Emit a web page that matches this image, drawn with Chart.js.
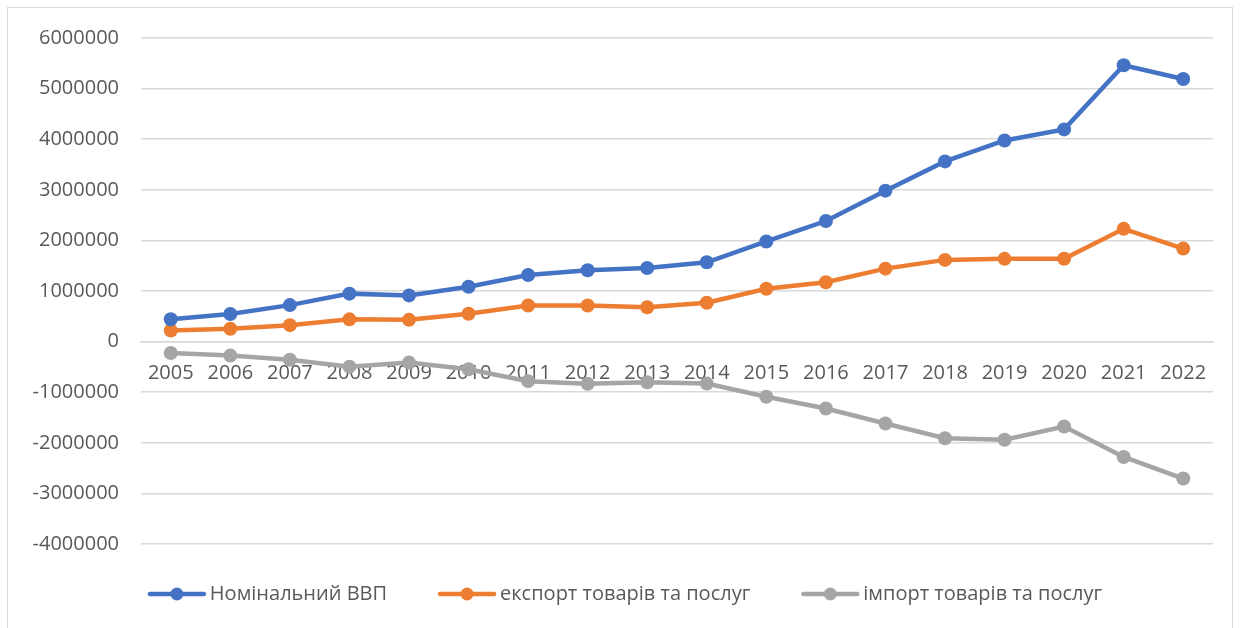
<!DOCTYPE html>
<html>
<head>
<meta charset="utf-8">
<script src="https://cdn.jsdelivr.net/npm/chart.js@4.4.1/dist/chart.umd.min.js"></script>
<style>
  html, body { margin: 0; padding: 0; background: #fff; }
  #wrap { position: relative; width: 1242px; height: 628px; overflow: hidden; }
  #frame { position: absolute; left: 7px; top: 7px; width: 1226px; height: 640px; border: 1.5px solid #d9d9d9; box-sizing: border-box; }
  canvas { position: absolute; left: 0; top: 0; }
</style>
</head>
<body>
<div id="wrap">
  <div id="frame"></div>
  <canvas id="chart" width="1242" height="628"></canvas>
</div>
<script>
/* ========= DATA ========= */
const years = ["2005","2006","2007","2008","2009","2010","2011","2012","2013","2014","2015","2016","2017","2018","2019","2020","2021","2022"];

const gdp = [441000, 544000, 721000, 948000, 913000, 1083000, 1317000, 1409000, 1455000, 1567000, 1979000, 2383000, 2983000, 3561000, 3975000, 4194000, 5460000, 5191000];
const exportsUA = [220000, 254000, 325000, 440000, 430000, 550000, 712000, 713000, 680000, 768000, 1045000, 1172000, 1442000, 1615000, 1635000, 1636000, 2228000, 1838000];
const importsUA = [-224000, -277000, -360000, -495000, -415000, -545000, -782000, -835000, -805000, -830000, -1089000, -1322000, -1618000, -1910000, -1940000, -1678000, -2280000, -2706000];

const seriesNames = ["Номінальний ВВП", "експорт товарів та послуг", "імпорт товарів та послуг"];
const seriesColors = ["#4472C4", "#ED7D31", "#A5A5A5"];

const yMin = -4000000, yMax = 6000000, yStep = 1000000;

/* ========= LEGEND MARKERS ========= */
// line + dot at the right end of a wider transparent box:
// more room between legend items without a taller legend
const MARK_W = 60, BOX_W = 63;
function legendMarker(color) {
  const c = document.createElement("canvas");
  c.width = BOX_W + 14;
  c.height = 16;
  const g = c.getContext("2d");
  const x0 = c.width - MARK_W;
  g.strokeStyle = color;
  g.lineWidth = 4.5;
  g.lineCap = "round";
  g.beginPath(); g.moveTo(x0 + 3, 8); g.lineTo(x0 + 57, 8); g.stroke();
  g.fillStyle = color;
  g.beginPath(); g.arc(x0 + 30, 8, 6.5, 0, Math.PI * 2); g.fill();
  return c;
}

function makeSet(i, data) {
  return {
    label: seriesNames[i],
    data: data,
    borderColor: seriesColors[i],
    backgroundColor: seriesColors[i],
    borderWidth: 4.5,
    pointRadius: 7,
    pointHoverRadius: 7,
    pointBorderWidth: 0,
    pointStyle: "circle",
    tension: 0
  };
}

/* ========= CHART ========= */
new Chart(document.getElementById("chart"), {
  type: "line",
  data: {
    labels: years,
    datasets: [makeSet(0, gdp), makeSet(1, exportsUA), makeSet(2, importsUA)]
  },
  options: {
    responsive: false,
    animation: false,
    layout: { padding: { left: 26, right: 29, top: 38, bottom: 14 } },
    scales: {
      x: {
        position: { y: 0 },
        offset: true,
        z: 1,
        grid: { display: false, drawTicks: false },
        border: { color: "#d9d9d9", width: 1.5 },
        ticks: {
          color: "#595959",
          font: { family: "Open Sans", size: 20 },
          padding: 20,
          maxRotation: 0,
          autoSkip: false
        }
      },
      y: {
        min: yMin,
        max: yMax,
        afterFit: s => { s.width = 115; },
        grid: { color: "#d9d9d9", lineWidth: 1.5, drawTicks: false },
        border: { display: false },
        ticks: {
          stepSize: yStep,
          color: "#595959",
          font: { family: "Open Sans", size: 20 },
          padding: 22,
          callback: v => String(v)
        }
      }
    },
    plugins: {
      tooltip: { enabled: false },
      legend: {
        position: "bottom",
        labels: {
          usePointStyle: true,
          pointStyleWidth: BOX_W,
          color: "#595959",
          font: { family: "Open Sans", size: 20 },
          padding: 40,
          generateLabels: chart => chart.data.datasets.map((ds, i) => ({
            text: ds.label,
            pointStyle: legendMarker(seriesColors[i]),
            fillStyle: ds.borderColor,
            strokeStyle: ds.borderColor,
            lineWidth: 0,
            fontColor: "#595959",
            datasetIndex: i,
            hidden: false
          }))
        }
      }
    }
  }
});
</script>
</body>
</html>
